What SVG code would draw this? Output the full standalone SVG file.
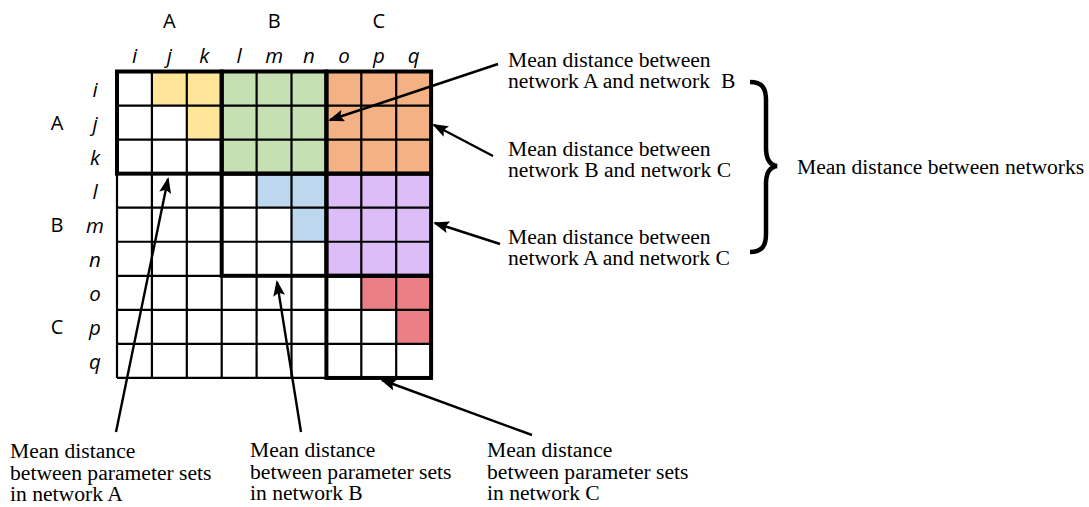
<svg xmlns="http://www.w3.org/2000/svg" width="1089" height="507" viewBox="0 0 1089 507">
<style>
.lbl{font-family:"Open Sans","Noto Sans",sans-serif;font-size:20px;fill:#000;text-anchor:middle}
.it{font-family:"Open Sans","Noto Sans",sans-serif;font-size:20.5px;font-style:italic;fill:#000;text-anchor:middle}
.cap{font-family:"Liberation Serif","Times New Roman",serif;font-size:21.6px;fill:#000;white-space:pre}
.thin{stroke:#000;stroke-width:2.2;fill:none}
.thick{stroke:#000;stroke-width:4;fill:none}
.conn{stroke:#000;stroke-width:2.4;fill:none;marker-end:url(#ah)}
.y{fill:#FFE597}.g{fill:#C6E0B4}.o{fill:#F4B183}.b{fill:#BDD7EE}.p{fill:#DDBDF8}.r{fill:#EA7F85}
</style>
<defs>
<marker id="ah" markerUnits="userSpaceOnUse" markerWidth="16" markerHeight="12" refX="14" refY="6" orient="auto">
<path d="M0,0 L16,6 L0,12 L3,6 z" fill="#000"/>
</marker>
</defs>
<rect width="1089" height="507" fill="#fff"/>
<g id="matrix">
<rect x="117" y="71.5" width="314.1" height="306.45" fill="#fff"/>
<rect class="y" x="151.9" y="71.5" width="69.8" height="34.05"/>
<rect class="y" x="186.8" y="105.55" width="34.9" height="34.05"/>
<rect class="g" x="221.7" y="71.5" width="104.7" height="102.15"/>
<rect class="o" x="326.4" y="71.5" width="104.7" height="102.15"/>
<rect class="b" x="256.6" y="173.65" width="69.8" height="34.05"/>
<rect class="b" x="291.5" y="207.7" width="34.9" height="34.05"/>
<rect class="p" x="326.4" y="173.65" width="104.7" height="102.15"/>
<rect class="r" x="361.3" y="275.8" width="69.8" height="34.05"/>
<rect class="r" x="396.2" y="309.85" width="34.9" height="34.05"/>
<path class="thin" d="M117,71.5V377.95M151.9,71.5V377.95M186.8,71.5V377.95M221.7,71.5V377.95M256.6,71.5V377.95M291.5,71.5V377.95M326.4,71.5V377.95M361.3,71.5V377.95M396.2,71.5V377.95M431.1,71.5V377.95
M117,71.5H431.1M117,105.55H431.1M117,139.6H431.1M117,173.65H431.1M117,207.7H431.1M117,241.75H431.1M117,275.8H431.1M117,309.85H431.1M117,343.9H431.1M117,377.95H431.1"/>
<rect class="thick" x="117" y="71.5" width="104.7" height="102.15"/>
<rect class="thick" x="221.7" y="71.5" width="104.7" height="102.15"/>
<rect class="thick" x="326.4" y="71.5" width="104.7" height="102.15"/>
<rect class="thick" x="221.7" y="173.65" width="104.7" height="102.15"/>
<rect class="thick" x="326.4" y="173.65" width="104.7" height="102.15"/>
<rect class="thick" x="326.4" y="275.8" width="104.7" height="102.15"/>
</g>
<g id="col-labels">
<text class="lbl" x="169.4" y="28">A</text>
<text class="lbl" x="274.1" y="28">B</text>
<text class="lbl" x="378.8" y="28">C</text>
<text class="it" x="134.5" y="63">i</text>
<text class="it" x="169.4" y="63">j</text>
<text class="it" x="204.3" y="63">k</text>
<text class="it" x="239.2" y="63">l</text>
<text class="it" x="274.1" y="63">m</text>
<text class="it" x="309" y="63">n</text>
<text class="it" x="343.9" y="63">o</text>
<text class="it" x="378.8" y="63">p</text>
<text class="it" x="413.7" y="63">q</text>
</g>
<g id="row-labels">
<text class="lbl" x="57" y="129.5">A</text>
<text class="lbl" x="57" y="231.7">B</text>
<text class="lbl" x="57" y="333.9">C</text>
<text class="it" x="95" y="96.5">i</text>
<text class="it" x="95" y="130.6">j</text>
<text class="it" x="95" y="164.6">k</text>
<text class="it" x="95" y="198.7">l</text>
<text class="it" x="95" y="232.7">m</text>
<text class="it" x="95" y="266.8">n</text>
<text class="it" x="95" y="300.8">o</text>
<text class="it" x="95" y="334.9">p</text>
<text class="it" x="95" y="368.9">q</text>
</g>
<g id="connectors">
<line class="conn" x1="498" y1="64" x2="330" y2="120"/>
<line class="conn" x1="493" y1="156" x2="434" y2="125"/>
<line class="conn" x1="500" y1="244" x2="435" y2="223"/>
<line class="conn" x1="116" y1="432" x2="168" y2="179"/>
<line class="conn" x1="301" y1="432" x2="277" y2="282"/>
<line class="conn" x1="532" y1="435" x2="382" y2="380"/>
</g>
<g id="label-AB">
<text class="cap" x="508" y="67">Mean distance between</text>
<text class="cap" x="508" y="88">network A and network  B</text>
</g>
<g id="label-BC">
<text class="cap" x="508" y="156">Mean distance between</text>
<text class="cap" x="508" y="177">network B and network C</text>
</g>
<g id="label-AC">
<text class="cap" x="508" y="244">Mean distance between</text>
<text class="cap" x="508" y="265">network A and network C</text>
</g>
<g id="brace">
<path d="M750,82 C762,82 766,88 766,100 L766,148 C766,159 770,165 777,166 C770,167 766,173 766,184 L766,234 C766,246 762,252 750,252" fill="none" stroke="#000" stroke-width="4.5"/>
</g>
<g id="label-networks">
<text class="cap" x="797" y="174">Mean distance between networks</text>
</g>
<g id="label-A">
<text class="cap" x="10" y="458">Mean distance</text>
<text class="cap" x="10" y="479.5">between parameter sets</text>
<text class="cap" x="10" y="501">in network A</text>
</g>
<g id="label-B">
<text class="cap" x="250" y="457">Mean distance</text>
<text class="cap" x="250" y="478.5">between parameter sets</text>
<text class="cap" x="250" y="500">in network B</text>
</g>
<g id="label-C">
<text class="cap" x="487" y="457">Mean distance</text>
<text class="cap" x="487" y="478.5">between parameter sets</text>
<text class="cap" x="487" y="500">in network C</text>
</g>
</svg>
